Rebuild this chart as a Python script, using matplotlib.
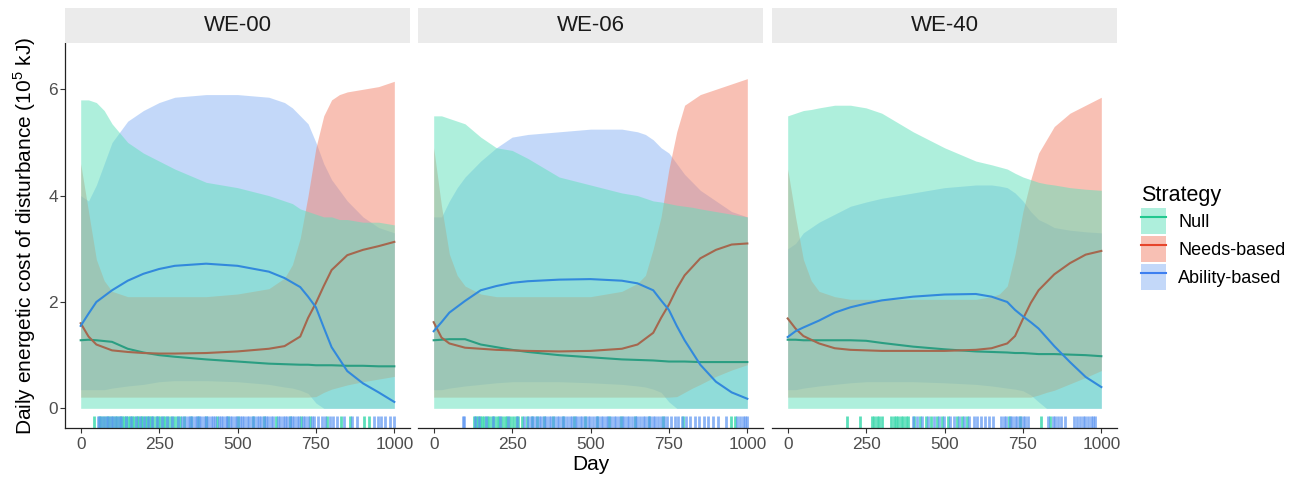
import matplotlib
matplotlib.use("Agg")
import matplotlib.pyplot as plt
from matplotlib.patches import Patch
from matplotlib.lines import Line2D

plt.rcParams["font.family"] = ["Liberation Sans", "DejaVu Sans"]
plt.rcParams["mathtext.fontset"] = "custom"
plt.rcParams["mathtext.rm"] = "Liberation Sans"

panels = ["WE-00", "WE-06", "WE-40"]
strategies = ["Null", "Needs-based", "Ability-based"]

ribbon_days = [0, 25, 50, 75, 100, 150, 200, 250, 300, 400, 500, 600,
               650, 675, 700, 725, 750, 775, 800, 825, 850, 900, 950, 1000]
line_days = [0, 25, 50, 100, 150, 200, 250, 300, 400, 500, 600, 650,
             700, 725, 750, 775, 800, 850, 900, 950, 1000]

# ---- WE-00 ----
we00_null_lo = [0.0, 0.0, 0.0, 0.0, 0.0, 0.0, 0.0, 0.0, 0.0, 0.0, 0.0, 0.0,
                0.0, 0.0, 0.0, 0.0, 0.0, 0.0, 0.0, 0.0, 0.0, 0.0, 0.0, 0.0]
we00_null_hi = [5.8, 5.8, 5.75, 5.6, 5.35, 5.0, 4.8, 4.65, 4.5, 4.25, 4.15, 4.0,
                3.9, 3.85, 3.75, 3.7, 3.65, 3.6, 3.6, 3.55, 3.55, 3.5, 3.5, 3.45]
we00_needs_lo = [0.21, 0.21, 0.21, 0.21, 0.21, 0.21, 0.21, 0.21, 0.21, 0.21, 0.21, 0.21,
                 0.21, 0.21, 0.21, 0.21, 0.22, 0.3, 0.36, 0.4, 0.44, 0.5, 0.55, 0.6]
we00_needs_hi = [4.6, 3.7, 2.8, 2.4, 2.2, 2.1, 2.1, 2.1, 2.1, 2.1, 2.15, 2.25,
                 2.45, 2.7, 3.2, 4.0, 4.9, 5.5, 5.8, 5.9, 5.95, 6.0, 6.05, 6.15]
we00_abil_lo = [0.35, 0.35, 0.35, 0.35, 0.38, 0.42, 0.45, 0.5, 0.52, 0.52, 0.5, 0.45,
                0.4, 0.38, 0.34, 0.28, 0.1, 0.0, 0.0, 0.0, 0.0, 0.0, 0.0, 0.0]
we00_abil_hi = [4.0, 3.9, 4.2, 4.6, 5.0, 5.4, 5.6, 5.75, 5.85, 5.9, 5.9, 5.85,
                5.75, 5.65, 5.5, 5.35, 5.0, 4.6, 4.3, 4.1, 3.9, 3.6, 3.4, 3.3]
we00_null_mean = [1.28, 1.29, 1.28, 1.25, 1.12, 1.05, 1.0, 0.97, 0.92, 0.88, 0.84,
                  0.83, 0.82, 0.82, 0.81, 0.81, 0.81, 0.8, 0.8, 0.79, 0.79]
we00_needs_mean = [1.6, 1.35, 1.2, 1.09, 1.06, 1.04, 1.03, 1.03, 1.04, 1.07, 1.12,
                   1.17, 1.35, 1.7, 1.98, 2.3, 2.6, 2.88, 2.98, 3.05, 3.13]
we00_abil_mean = [1.55, 1.78, 2.0, 2.22, 2.4, 2.53, 2.62, 2.68, 2.72, 2.68, 2.57,
                  2.45, 2.28, 2.1, 1.9, 1.52, 1.15, 0.7, 0.47, 0.3, 0.12]
we00_rug_null = [42, 58, 66, 74, 83, 91, 99, 108, 117, 124, 131, 139, 146, 152, 158,
                 165, 171, 178, 184, 191, 197, 204, 210, 217, 224, 231, 239, 246, 254,
                 262, 270, 279, 288, 297, 306, 318, 331, 352, 374, 398, 436, 471, 503,
                 548, 585, 622, 668, 702, 731, 786, 829, 858, 903, 918]
we00_rug_abil = [55, 63, 71, 80, 88, 96, 104, 113, 121, 128, 143, 161, 175, 188, 201,
                 214, 227, 242, 258, 275, 292, 309, 322, 334, 341, 348, 356, 363, 370,
                 378, 385, 392, 400, 407, 414, 421, 429, 440, 447, 455, 462, 468, 476,
                 484, 491, 498, 507, 515, 522, 530, 538, 545, 553, 561, 568, 576, 583,
                 591, 598, 606, 614, 628, 636, 644, 651, 659, 666, 674, 681, 689, 696,
                 709, 716, 724, 738, 745, 757, 769, 778, 794, 805, 817, 838, 866, 881,
                 936, 948, 957, 971, 985, 999]

# ---- WE-06 ----
we06_null_lo = [0.0, 0.0, 0.0, 0.0, 0.0, 0.0, 0.0, 0.0, 0.0, 0.0, 0.0, 0.0,
                0.0, 0.0, 0.0, 0.0, 0.0, 0.0, 0.0, 0.0, 0.0, 0.0, 0.0, 0.0]
we06_null_hi = [5.5, 5.5, 5.45, 5.4, 5.35, 5.1, 4.9, 4.85, 4.7, 4.35, 4.2, 4.05,
                4.0, 3.95, 3.9, 3.88, 3.85, 3.82, 3.8, 3.78, 3.75, 3.7, 3.65, 3.6]
we06_needs_lo = [0.21, 0.21, 0.21, 0.21, 0.21, 0.21, 0.21, 0.21, 0.21, 0.21, 0.21, 0.21,
                 0.21, 0.21, 0.21, 0.21, 0.21, 0.22, 0.3, 0.38, 0.45, 0.6, 0.72, 0.82]
we06_needs_hi = [4.9, 3.8, 2.9, 2.5, 2.3, 2.15, 2.1, 2.1, 2.1, 2.1, 2.1, 2.2,
                 2.35, 2.5, 3.0, 3.6, 4.5, 5.2, 5.7, 5.8, 5.9, 6.0, 6.1, 6.2]
we06_abil_lo = [0.35, 0.35, 0.38, 0.4, 0.42, 0.45, 0.48, 0.5, 0.5, 0.5, 0.48, 0.45,
                0.42, 0.4, 0.36, 0.3, 0.12, 0.0, 0.0, 0.0, 0.0, 0.0, 0.0, 0.0]
we06_abil_hi = [3.6, 3.6, 3.9, 4.15, 4.35, 4.65, 4.9, 5.1, 5.15, 5.2, 5.25, 5.25,
                5.2, 5.15, 5.05, 4.9, 4.8, 4.6, 4.4, 4.25, 4.1, 3.9, 3.7, 3.6]
we06_null_mean = [1.28, 1.29, 1.3, 1.3, 1.2, 1.15, 1.1, 1.06, 1.0, 0.96, 0.92,
                  0.91, 0.9, 0.89, 0.88, 0.88, 0.88, 0.87, 0.87, 0.87, 0.87]
we06_needs_mean = [1.62, 1.33, 1.22, 1.14, 1.12, 1.1, 1.09, 1.08, 1.07, 1.08, 1.12,
                   1.2, 1.42, 1.7, 1.95, 2.25, 2.5, 2.82, 2.98, 3.08, 3.1]
we06_abil_mean = [1.45, 1.62, 1.8, 2.02, 2.22, 2.3, 2.36, 2.39, 2.42, 2.43, 2.4,
                  2.35, 2.22, 2.03, 1.85, 1.55, 1.28, 0.82, 0.5, 0.3, 0.18]
we06_rug_null = [127, 134, 141, 148, 155, 162, 170, 177, 185, 193, 201, 209, 217, 226,
                 234, 243, 252, 261, 270, 283, 296, 312, 330, 352, 381, 412, 446, 483,
                 521, 560, 598, 641, 688, 730, 795, 948, 962]
we06_rug_abil = [92, 98, 131, 145, 166, 188, 213, 238, 265, 289, 302, 310, 318, 326,
                 335, 343, 351, 359, 367, 375, 384, 392, 400, 409, 417, 425, 434, 442,
                 450, 458, 466, 474, 483, 491, 499, 508, 516, 524, 532, 541, 549, 557,
                 566, 574, 582, 591, 599, 607, 616, 624, 632, 641, 649, 657, 666, 674,
                 682, 691, 699, 707, 716, 724, 733, 745, 756, 768, 779, 791, 803, 818,
                 832, 846, 861, 876, 890, 905, 932, 968, 977, 985, 993, 1000]

# ---- WE-40 ----
we40_null_lo = [0.0, 0.0, 0.0, 0.0, 0.0, 0.0, 0.0, 0.0, 0.0, 0.0, 0.0, 0.0,
                0.0, 0.0, 0.0, 0.0, 0.0, 0.0, 0.0, 0.0, 0.0, 0.0, 0.0, 0.0]
we40_null_hi = [5.5, 5.55, 5.6, 5.62, 5.65, 5.7, 5.7, 5.65, 5.55, 5.2, 4.9, 4.65,
                4.58, 4.54, 4.5, 4.42, 4.35, 4.3, 4.25, 4.22, 4.2, 4.15, 4.12, 4.1]
we40_needs_lo = [0.21, 0.21, 0.21, 0.21, 0.21, 0.21, 0.21, 0.21, 0.21, 0.21, 0.21, 0.21,
                 0.21, 0.21, 0.21, 0.21, 0.21, 0.21, 0.25, 0.3, 0.34, 0.46, 0.58, 0.71]
we40_needs_hi = [4.5, 3.6, 2.8, 2.4, 2.2, 2.1, 2.05, 2.05, 2.05, 2.05, 2.05, 2.05,
                 2.1, 2.15, 2.3, 2.9, 3.7, 4.3, 4.8, 5.05, 5.3, 5.55, 5.7, 5.85]
we40_abil_lo = [0.35, 0.35, 0.38, 0.4, 0.42, 0.45, 0.48, 0.5, 0.5, 0.5, 0.48, 0.45,
                0.42, 0.4, 0.38, 0.36, 0.33, 0.25, 0.12, 0.0, 0.0, 0.0, 0.0, 0.0]
we40_abil_hi = [3.0, 3.1, 3.3, 3.4, 3.5, 3.65, 3.8, 3.88, 3.95, 4.05, 4.15, 4.2,
                4.2, 4.18, 4.15, 4.05, 3.9, 3.7, 3.55, 3.48, 3.4, 3.35, 3.32, 3.3]
we40_null_mean = [1.29, 1.29, 1.28, 1.28, 1.28, 1.28, 1.27, 1.23, 1.16, 1.11, 1.07,
                  1.06, 1.05, 1.04, 1.04, 1.03, 1.02, 1.02, 1.01, 1.0, 0.98]
we40_needs_mean = [1.69, 1.5, 1.36, 1.22, 1.13, 1.1, 1.09, 1.08, 1.08, 1.08, 1.1,
                   1.13, 1.22, 1.36, 1.68, 1.98, 2.22, 2.52, 2.73, 2.89, 2.96]
we40_abil_mean = [1.34, 1.45, 1.52, 1.65, 1.8, 1.9, 1.97, 2.03, 2.1, 2.14, 2.15,
                  2.1, 2.0, 1.85, 1.73, 1.62, 1.5, 1.17, 0.87, 0.59, 0.4]
we40_rug_null = [190, 232, 268, 276, 284, 292, 301, 330, 338, 346, 353, 361, 369, 377,
                 384, 404, 421, 440, 458, 476, 492, 512, 540, 556, 571, 706, 742, 808,
                 836]
we40_rug_abil = [398, 412, 427, 447, 465, 484, 499, 518, 530, 547, 563, 577, 594, 605,
                 616, 628, 641, 655, 681, 689, 697, 708, 716, 724, 732, 740, 749, 758,
                 766, 829, 845, 853, 862, 872, 883, 913, 922, 931, 940, 949, 958, 966,
                 975, 981]

panel_data = {
    "WE-00": dict(ribbons=[(we00_abil_lo, we00_abil_hi), (we00_needs_lo, we00_needs_hi),
                           (we00_null_lo, we00_null_hi)],
                  means=[we00_null_mean, we00_needs_mean, we00_abil_mean],
                  rug_null=we00_rug_null, rug_abil=we00_rug_abil),
    "WE-06": dict(ribbons=[(we06_abil_lo, we06_abil_hi), (we06_needs_lo, we06_needs_hi),
                           (we06_null_lo, we06_null_hi)],
                  means=[we06_null_mean, we06_needs_mean, we06_abil_mean],
                  rug_null=we06_rug_null, rug_abil=we06_rug_abil),
    "WE-40": dict(ribbons=[(we40_abil_lo, we40_abil_hi), (we40_needs_lo, we40_needs_hi),
                           (we40_null_lo, we40_null_hi)],
                  means=[we40_null_mean, we40_needs_mean, we40_abil_mean],
                  rug_null=we40_rug_null, rug_abil=we40_rug_abil),
}

# fill colours (drawn Ability, Needs, Null) and line colours (Null, Needs, Ability)
fill_colors = {"Null": "#5fe1bb", "Needs-based": "#f3826a", "Ability-based": "#88b3f5"}
ribbon_order = ["Ability-based", "Needs-based", "Null"]
line_colors = ["#2b9e82", "#a5674e", "#3289dc"]
legend_line_colors = ["#22c88f", "#e6452b", "#3d7ff0"]

W, H = 1303, 478
fig = plt.figure(figsize=(W / 100, H / 100), dpi=100)


def fx(px):
    return px / W


def fy(py):
    return 1 - py / H


panel_lefts = [65, 418, 772]
panel_w = 345
ax_top, ax_bottom = 43, 428

for i, name in enumerate(panels):
    left = panel_lefts[i]
    ax = fig.add_axes([fx(left), fy(ax_bottom), panel_w / W, (ax_bottom - ax_top) / H])
    d = panel_data[name]

    for strat, (lo, hi) in zip(ribbon_order, d["ribbons"]):
        ax.fill_between(ribbon_days, lo, hi, color=fill_colors[strat], alpha=0.5,
                        linewidth=0, zorder=1)

    for vals, col in zip(d["means"], line_colors):
        ax.plot(line_days, vals, color=col, lw=1.5, zorder=3)

    tr = ax.get_xaxis_transform()
    ax.vlines(d["rug_null"], 0, 0.03, transform=tr, colors="#3fd9ae", lw=2.0, alpha=0.85)
    ax.vlines(d["rug_abil"], 0, 0.03, transform=tr, colors="#5b95f2", lw=2.0, alpha=0.7)

    ax.set_xlim(-50, 1050)
    ax.set_ylim(-0.37, 6.87)
    ax.set_xticks([0, 250, 500, 750, 1000])
    ax.spines["top"].set_visible(False)
    ax.spines["right"].set_visible(False)
    ax.spines["bottom"].set_linewidth(0.9)
    ax.spines["bottom"].set_color("#222222")
    ax.tick_params(axis="x", length=3.5, width=0.8, color="#333333",
                   labelsize=12.4, labelcolor="#4D4D4D", pad=3)
    if i == 0:
        ax.set_yticks([0, 2, 4, 6])
        ax.spines["left"].set_linewidth(0.9)
        ax.spines["left"].set_color("#222222")
        ax.tick_params(axis="y", length=3.5, width=0.8, color="#333333",
                       labelsize=12.4, labelcolor="#4D4D4D", pad=1.5)
    else:
        ax.spines["left"].set_visible(False)
        ax.set_yticks([])

    # facet strip
    sax = fig.add_axes([fx(left), fy(ax_top), panel_w / W, 35 / H])
    sax.set_facecolor("#EBEBEB")
    for sp in sax.spines.values():
        sp.set_visible(False)
    sax.set_xticks([])
    sax.set_yticks([])
    sax.text(0.5, 0.5, name, ha="center", va="center", fontsize=16,
             color="#1A1A1A", transform=sax.transAxes)

fig.text(fx(25), fy(235.5), r"Daily energetic cost of disturbance (10$^{5}$ kJ)",
         rotation=90, ha="center", va="center", fontsize=15)
fig.text(fx(590.5), fy(465), "Day", ha="center", va="center", fontsize=15)

handles = []
for strat, lc in zip(strategies, legend_line_colors):
    handles.append((Patch(facecolor=fill_colors[strat], alpha=0.5, edgecolor="none"),
                    Line2D([], [], color=lc, lw=1.5)))
fig.legend(handles, strategies, loc="upper left", bbox_to_anchor=(fx(1141), fy(185)),
           frameon=False, title="Strategy", fontsize=13, title_fontsize=15.5,
           handlelength=1.4, handleheight=1.85, labelspacing=0.1,
           handletextpad=0.65, borderaxespad=0, borderpad=0, alignment="left")

fig.savefig("out.png", dpi=100)
